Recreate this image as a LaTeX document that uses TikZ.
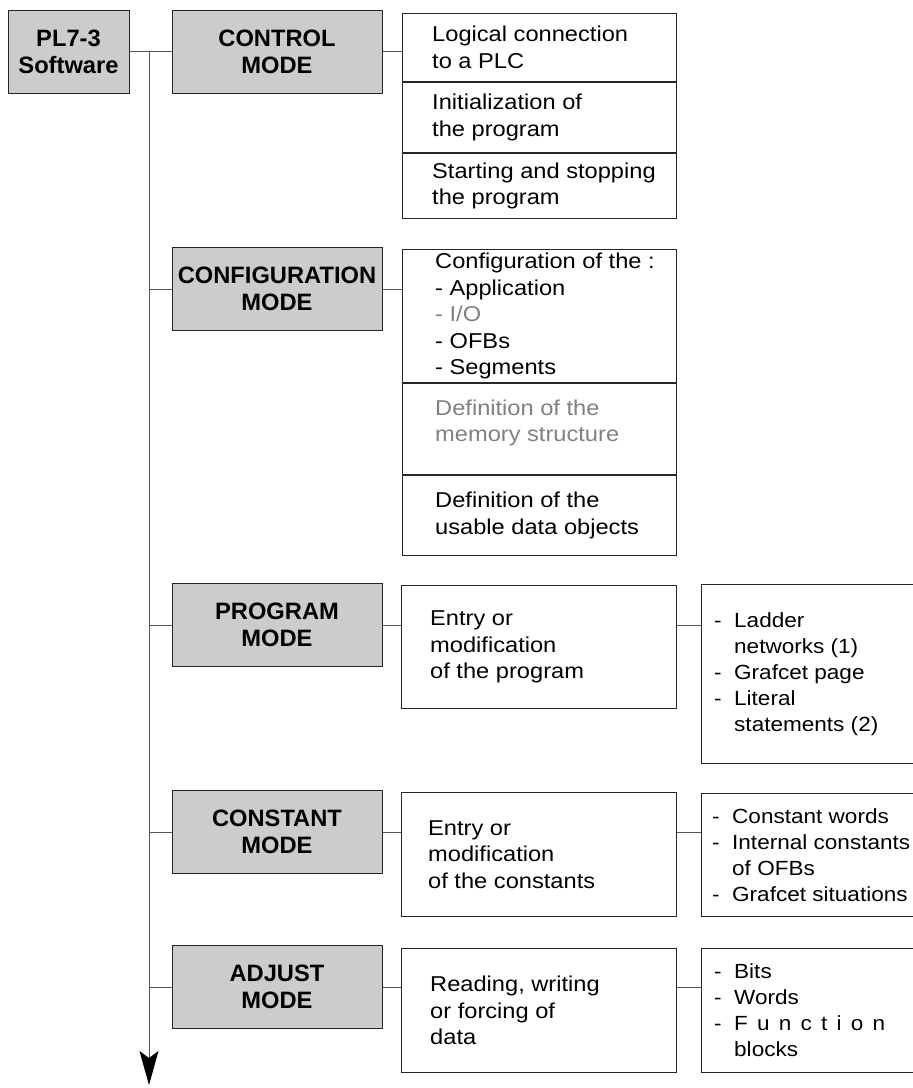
\documentclass[tikz,border=0pt]{standalone}
\usepackage{fontspec}
\setmainfont{Liberation Sans}
\newfontfamily\bodyfont[FakeStretch=1.1]{Liberation Sans}
\usetikzlibrary{arrows.meta, positioning}
\definecolor{modegray}{RGB}{204,204,204}
\definecolor{dimtext}{RGB}{128,128,128}
\definecolor{linegray}{RGB}{85,85,85}
\newcommand{\itm}[1]{\makebox[20pt][l]{-}#1}
\newcommand{\cnt}[1]{\hspace*{20pt}#1}

\begin{document}
\begin{tikzpicture}[x=1pt, y=-1pt,
  modebox/.style={draw=black!85, fill=modegray, line width=1pt, minimum width=210pt, minimum height=83pt, inner sep=0pt, align=center, font=\fontsize{23.7pt}{27pt}\selectfont\bfseries},
  cell/.style={draw=black!85, line width=1pt, anchor=north west, inner sep=0pt},
  txt/.style={inner sep=0pt, align=left, font=\bodyfont\fontsize{21.5pt}{26.5pt}\selectfont},
  lsttxt/.style={txt, font=\bodyfont\fontsize{20.5pt}{26pt}\selectfont},
  link/.style={draw=linegray, line width=1pt}
]
  \useasboundingbox (0,0) rectangle (913,1088);

  \node[modebox, minimum width=121pt] (root) at (68.5,51.5) {PL7-3\\Software};
  \node[modebox] (ctl) at (277,51.5) {CONTROL\\MODE};
  \node[modebox] (cfg) at (277,289) {CONFIGURATION\\MODE};
  \node[modebox] (prg) at (277,625) {PROGRAM\\MODE};
  \node[modebox] (cst) at (277,832) {CONSTANT\\MODE};
  \node[modebox] (adj) at (277,987) {ADJUST\\MODE};

  \coordinate (trunktop) at (149,51.5);
  \coordinate (trunkend) at (149,1085);
  \draw[link, -{Stealth[length=34pt, width=19pt, inset=7pt, color=black]}] (trunktop) -- (trunkend);
  \draw[link] (root.east) -- (ctl.west);
  \draw[link] (cfg.west -| trunktop) -- (cfg.west);
  \draw[link] (prg.west -| trunktop) -- (prg.west);
  \draw[link] (cst.west -| trunktop) -- (cst.west);
  \draw[link] (adj.west -| trunktop) -- (adj.west);

  \node[cell, minimum width=274pt, minimum height=68pt] (ctl1) at (402,13) {};
  \node[cell, minimum width=274pt, minimum height=70pt, below=0pt of ctl1] (ctl2) {};
  \node[cell, minimum width=274pt, minimum height=65pt, below=0pt of ctl2] (ctl3) {};
  \node[txt, right=30pt of ctl1.west] (ctl1t) {Logical connection\\to a PLC};
  \node[txt, right=30pt of ctl2.west] (ctl2t) {Initialization of\\the program};
  \node[txt, right=30pt of ctl3.west] (ctl3t) {Starting and stopping\\the program};
  \draw[link] (ctl.east) -- (ctl.east -| ctl1.west);

  \node[cell, minimum width=274pt, minimum height=133pt] (cfg1) at (402,249) {};
  \node[cell, minimum width=274pt, minimum height=91pt, below=0pt of cfg1] (cfg2) {};
  \node[cell, minimum width=274pt, minimum height=80pt, below=0pt of cfg2] (cfg3) {};
  \node[txt, right=33pt of cfg1.west] (cfg1t) {Configuration of the :\\- Application\\{\color{dimtext}- I/O}\\- OFBs\\- Segments};
  \node[txt, right=33pt of cfg2.west, yshift=6pt, text=dimtext] (cfg2t) {Definition of the\\memory structure};
  \node[txt, right=33pt of cfg3.west] (cfg3t) {Definition of the\\usable data objects};
  \draw[link] (cfg.east) -- (cfg.east -| cfg1.west);

  \node[cell, minimum width=275pt, minimum height=123pt] (prgmid) at (401,585) {};
  \node[cell, minimum width=215pt, minimum height=179pt] (prglst) at (701,584) {};
  \node[txt, right=29pt of prgmid.west] (prgmidt) {Entry or\\modification\\of the program};
  \node[lsttxt, right=13pt of prglst.west] (prglstt) {\itm{Ladder}\\\cnt{networks (1)}\\\itm{Grafcet page}\\\itm{Literal}\\\cnt{statements (2)}};
  \draw[link] (prg.east) -- (prg.east -| prgmid.west);
  \draw[link] (prg.east -| prgmid.east) -- (prg.east -| prglst.west);

  \node[cell, minimum width=275pt, minimum height=124pt] (cstmid) at (401,792) {};
  \node[cell, minimum width=215pt, minimum height=123pt] (cstlst) at (701,793) {};
  \node[txt, right=27pt of cstmid.west] (cstmidt) {Entry or\\modification\\of the constants};
  \node[lsttxt, right=11pt of cstlst.west] (cstlstt) {\itm{Constant words}\\\itm{Internal constants}\\\cnt{of OFBs}\\\itm{Grafcet situations}};
  \draw[link] (cst.east) -- (cst.east -| cstmid.west);
  \draw[link] (cst.east -| cstmid.east) -- (cst.east -| cstlst.west);

  \node[cell, minimum width=275pt, minimum height=124pt] (adjmid) at (401,948) {};
  \node[cell, minimum width=215pt, minimum height=124pt] (adjlst) at (701,948) {};
  \node[txt, right=29pt of adjmid.west] (adjmidt) {Reading, writing\\or forcing of\\data};
  \node[lsttxt, right=13pt of adjlst.west] (adjlstt) {\itm{Bits}\\\itm{Words}\\\itm{\makebox[151pt][s]{F u n c t i o n}}\\\cnt{blocks}};
  \draw[link] (adj.east) -- (adj.east -| adjmid.west);
  \draw[link] (adj.east -| adjmid.east) -- (adj.east -| adjlst.west);
\end{tikzpicture}
\end{document}
